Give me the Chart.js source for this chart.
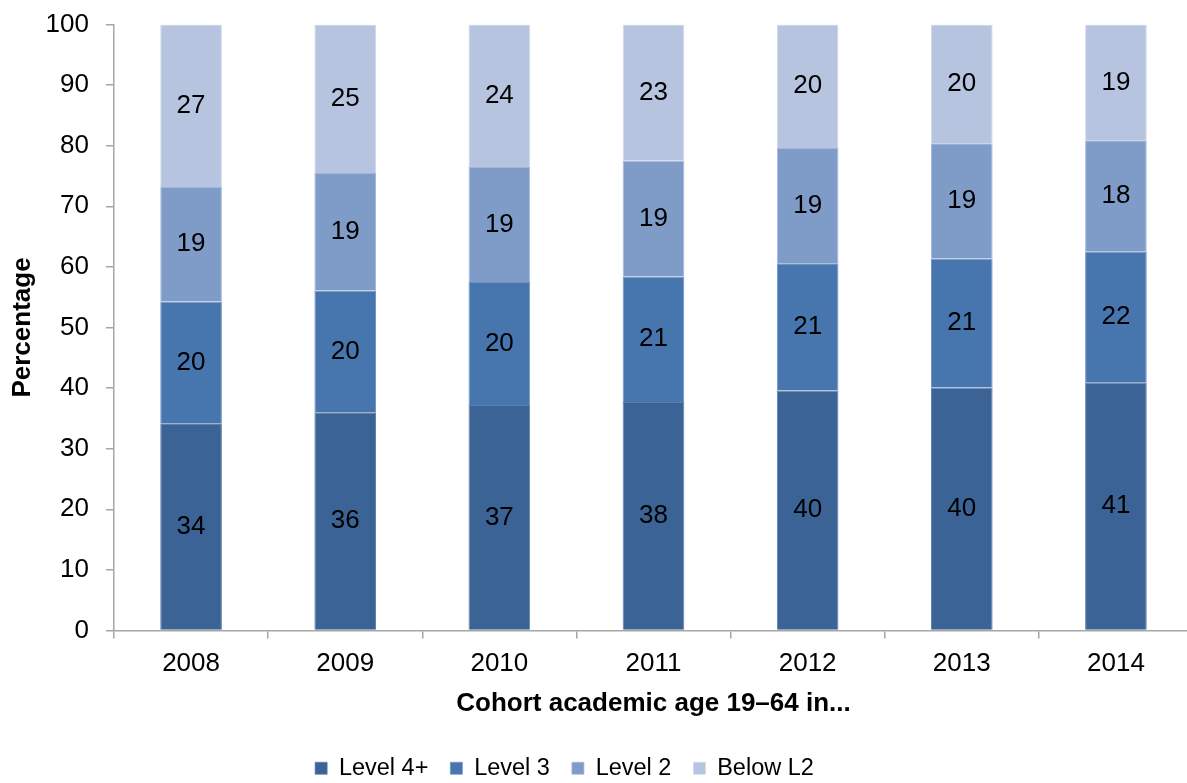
<!DOCTYPE html>
<html>
<head>
<meta charset="utf-8">
<title>Qualification levels by cohort</title>
<script src="https://cdn.jsdelivr.net/npm/chart.js@4/dist/chart.umd.min.js"></script>
<style>
  html, body { margin: 0; padding: 0; background: #fff; overflow: hidden; }
  #chart { display: block; }
</style>
</head>
<body>
<canvas id="chart" width="1194" height="790"></canvas>
<script>
// cohort years and share (%) at each qualification level
const years = ["2008", "2009", "2010", "2011", "2012", "2013", "2014"];
const level4 = [34.2, 36.0, 37.2, 37.7, 39.6, 40.1, 40.9];
const level3 = [20.1, 20.1, 20.3, 20.7, 21.0, 21.3, 21.6];
const level2 = [18.9, 19.4, 19.0, 19.1, 19.0, 19.0, 18.4];
const belowL2 = [26.8, 24.5, 23.5, 22.5, 20.4, 19.6, 19.1];
const yTicks = [0, 10, 20, 30, 40, 50, 60, 70, 80, 90, 100];

const FONT = "'Liberation Sans', Arial, sans-serif";
const AXIS_GREY = "#a6a6a6";

// value labels in the middle of every segment
const segmentLabels = {
  id: "segmentLabels",
  afterDatasetsDraw(chart) {
    const ctx = chart.ctx;
    ctx.save();
    ctx.font = "26px " + FONT;
    ctx.fillStyle = "#000";
    ctx.textAlign = "center";
    ctx.textBaseline = "middle";
    chart.data.datasets.forEach((ds, i) => {
      chart.getDatasetMeta(i).data.forEach((bar, j) => {
        const mid = (bar.y + bar.base) / 2;
        ctx.fillText(String(Math.round(ds.data[j])), bar.x, mid);
      });
    });
    ctx.restore();
  },
};

// legend sits a bit left of the canvas centre
const legendShift = {
  id: "legendShift",
  afterLayout(chart) {
    chart.legend.left -= 32;
    chart.legend.right -= 32;
  },
};

function dataset(label, data, fill, edge) {
  return {
    label: label,
    data: data,
    backgroundColor: fill,
    borderColor: edge,
    borderWidth: { top: 1, left: 1, right: 1, bottom: 0 },
    borderSkipped: false,
    barPercentage: 0.4,
    categoryPercentage: 1,
  };
}

new Chart(document.getElementById("chart"), {
  type: "bar",
  data: {
    labels: years,
    datasets: [
      dataset("Level 4+", level4, "#3b6395", "#5c7fab"),
      dataset("Level 3", level3, "#4776ae", "#6f93c2"),
      dataset("Level 2", level2, "#7e9cc7", "#a3b8d8"),
      dataset("Below L2", belowL2, "#b6c4df", "#cfd9ea"),
    ],
  },
  options: {
    responsive: false,
    animation: false,
    layout: { padding: { top: 24.5, right: 1, left: 0, bottom: 0 } },
    plugins: {
      tooltip: { enabled: false },
      legend: {
        position: "bottom",
        labels: {
          boxWidth: 12,
          boxHeight: 12,
          padding: 22,
          color: "#000",
          font: { family: FONT, size: 23.5 },
        },
      },
    },
    scales: {
      x: {
        stacked: true,
        afterFit(scale) {
          scale.height = 104;
        },
        border: { display: true, color: AXIS_GREY, width: 1.5 },
        grid: {
          offset: true,
          drawOnChartArea: false,
          drawTicks: true,
          tickLength: 8,
          color: AXIS_GREY,
          lineWidth: 1.5,
        },
        ticks: {
          padding: 10,
          color: "#000",
          font: { family: FONT, size: 26 },
        },
        title: {
          display: true,
          text: "Cohort academic age 19–64 in...",
          color: "#000",
          font: { family: FONT, size: 26, weight: "bold" },
          padding: { top: 0, bottom: 14.6 },
        },
      },
      y: {
        stacked: true,
        min: 0,
        max: 100,
        afterFit(scale) {
          // fixed axis width; the plot top comes from layout padding only
          scale.width = 114;
          scale.paddingTop = 0;
          scale.paddingBottom = 0;
        },
        afterBuildTicks(scale) {
          scale.ticks = yTicks.map((v) => ({ value: v }));
        },
        border: { display: true, color: AXIS_GREY, width: 1.5 },
        grid: {
          drawOnChartArea: false,
          drawTicks: true,
          tickLength: 8,
          color: AXIS_GREY,
          lineWidth: 1.5,
        },
        ticks: {
          padding: 17,
          color: "#000",
          font: { family: FONT, size: 26 },
        },
        title: {
          display: true,
          text: "Percentage",
          color: "#000",
          font: { family: FONT, size: 26, weight: "bold" },
          padding: { top: 7, bottom: 0 },
        },
      },
    },
  },
  plugins: [segmentLabels, legendShift],
});
</script>
</body>
</html>
